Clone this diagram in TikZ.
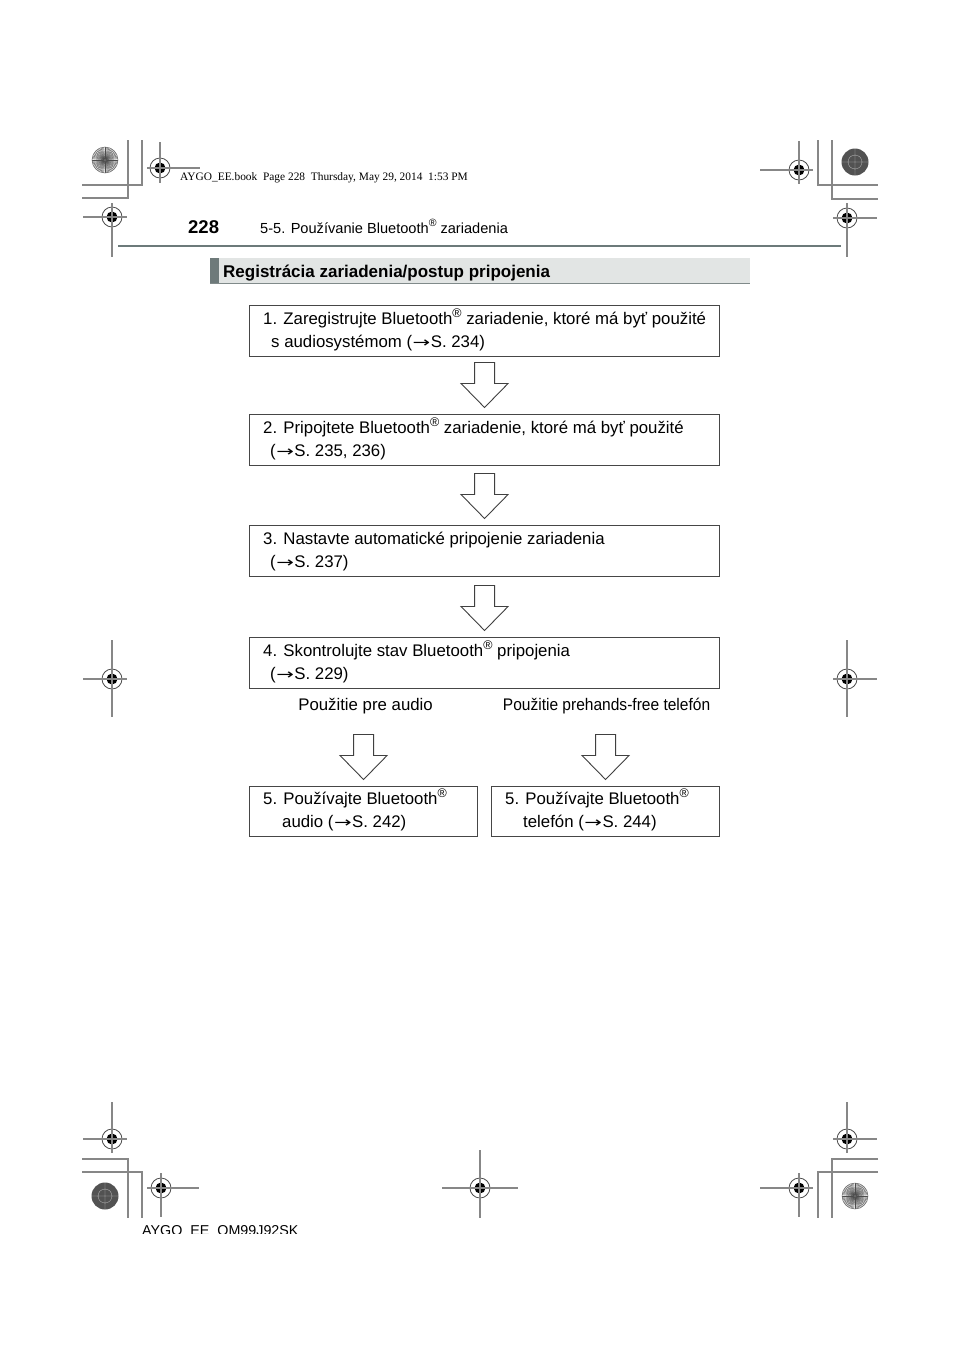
\documentclass[tikz,border=0pt]{standalone}
\usepackage{fontspec}
\setmainfont{Liberation Sans}
\newfontfamily\timesfont{Liberation Serif}
\newfontfamily\arrfont{DejaVu Sans}
\usetikzlibrary{calc}
\definecolor{regline}{RGB}{135,135,135}
\definecolor{rulecol}{RGB}{108,122,122}
\definecolor{barfill}{RGB}{226,229,228}
\definecolor{stripecol}{RGB}{110,122,122}
\definecolor{barline}{RGB}{128,138,138}
\definecolor{boxline}{RGB}{70,70,70}
\definecolor{darkdot}{RGB}{82,82,82}
\newcommand\myreg{\raisebox{0.40em}{\fontsize{12.5}{12.5}\selectfont ®}}
\newcommand\myarr{\kern0.5pt\scalebox{1.45}[1]{\arrfont\fontsize{14.5}{14.5}\selectfont →}\kern0.5pt}
\newcommand\blockarr[1]{\draw[barrow] ($(#1.north)+(-10,-51.5)$) -- ++(20,0) -- ++(0,21) -- ++(13.5,0) -- ++(-23.5,24) -- ++(-23.5,-24) -- ++(13.5,0) -- cycle;}
\begin{document}
\begin{tikzpicture}[x=1pt,y=-1pt,
  regl/.style={draw=regline,line width=1.3},
  boxst/.style={draw=boxline,line width=1.1,fill=white,rectangle,inner sep=0,anchor=north west},
  txt/.style={inner sep=0,anchor=base west,font=\fontsize{16.8}{20}\selectfont},
  lbl/.style={inner sep=0,anchor=base,font=\fontsize{16.8}{20}\selectfont},
  barrow/.style={draw=black!75,line width=0.9,fill=white,line join=miter},
  target/.pic={\draw[draw=black!70,line width=0.8] (0,0) circle (10);
               \fill[black] (0,0) circle (5.5);},
  sunburst/.pic={\fill[black!8] (0,0) circle (13);
                 \foreach \a in {0,6,...,354} \draw[line width=0.35,black!70] (0,0) -- (\a:13);
                 \fill[black!60] (0,0) circle (1.5);
                 \draw[line width=0.5,black!55] (0,0) circle (13);},
  darkcirc/.pic={\fill[darkdot] (0,0) circle (13.5);
                 \draw[white!60!darkdot,line width=0.3] (-13,0) -- (13,0) (0,-13) -- (0,13) (0,0) circle (7);}
]
\useasboundingbox[fill=white] (0,0) rectangle (960,1358);

% ---------- registration marks: top left ----------
\pic at (105,160) {sunburst};
\draw[regl] (128,140) -- (128,198) -- (82,198);
\draw[regl] (142,140) -- (142,185) -- (82,185);
\pic at (160,168) {target};
\draw[regl] (147,168) -- (200,168) (160,142) -- (160,183);
\pic at (112,217) {target};
\draw[regl] (83,217) -- (127,217) (112,203) -- (112,257);

% ---------- top right ----------
\pic at (855,162) {darkcirc};
\draw[regl] (818,140) -- (818,185) -- (878,185);
\draw[regl] (832,140) -- (832,199) -- (878,199);
\pic at (799,170) {target};
\draw[regl] (760,170) -- (813,170) (799,141) -- (799,184);
\pic at (847,218) {target};
\draw[regl] (833,218) -- (877,218) (847,203) -- (847,257);

% ---------- middle ----------
\pic at (112,679) {target};
\draw[regl] (83,679) -- (127,679) (112,640) -- (112,717);
\pic at (847,679) {target};
\draw[regl] (833,679) -- (877,679) (847,640) -- (847,717);

% ---------- bottom left ----------
\pic at (112,1139) {target};
\draw[regl] (83,1139) -- (127,1139) (112,1102) -- (112,1153);
\draw[regl] (82,1159) -- (128,1159) -- (128,1218);
\draw[regl] (82,1172) -- (142,1172) -- (142,1218);
\pic at (105,1196) {darkcirc};
\pic at (161,1188) {target};
\draw[regl] (147,1188) -- (199,1188) (161,1173) -- (161,1217);

% ---------- bottom center ----------
\pic at (480,1188) {target};
\draw[regl] (442,1188) -- (518,1188) (480,1150) -- (480,1218);

% ---------- bottom right ----------
\pic at (847,1139) {target};
\draw[regl] (833,1139) -- (877,1139) (847,1102) -- (847,1153);
\draw[regl] (878,1159) -- (832,1159) -- (832,1218);
\draw[regl] (878,1172) -- (818,1172) -- (818,1218);
\pic at (855,1196) {sunburst};
\pic at (799,1188) {target};
\draw[regl] (760,1188) -- (813,1188) (799,1173) -- (799,1217);

% ---------- stamp and page header ----------
\node[inner sep=0,anchor=base west,font=\timesfont\fontsize{11.4}{13}\selectfont] (stamp) at (180,180)
  {AYGO\_EE.book~ Page 228~ Thursday, May 29, 2014~ 1:53 PM};
\node[inner sep=0,anchor=base west,font=\bfseries\fontsize{18.5}{20}\selectfont] (pnum) at (188,233) {228};
\node[inner sep=0,anchor=base west,font=\fontsize{14.6}{16}\selectfont] (chap) at (260,233)
  {5-5. Používanie Bluetooth\raisebox{0.42em}{\fontsize{10.5}{10.5}\selectfont ®} zariadenia};
\draw[rulecol,line width=2.5] (118,246) -- (841,246);

% ---------- section bar ----------
\node[rectangle,fill=barfill,inner sep=0,anchor=north west,minimum width=540pt,minimum height=26pt] (hdr) at (210,258) {};
\fill[stripecol] (hdr.north west) rectangle ($(hdr.south west)+(9,0)$);
\draw[barline,line width=1.5] ($(hdr.south west)+(0,-0.75)$) -- ($(hdr.south east)+(0,-0.75)$);
\node[inner sep=0,anchor=base west,font=\bfseries\fontsize{17}{20}\selectfont] (hdrtxt) at ($(hdr.north west)+(13,19)$)
  {Registrácia zariadenia/postup pripojenia};

% ---------- boxes ----------
\node[boxst,minimum width=470pt,minimum height=51pt] (b1) at (249,305) {};
\node[boxst,minimum width=470pt,minimum height=51pt] (b2) at (249,414) {};
\node[boxst,minimum width=470pt,minimum height=51pt] (b3) at (249,525) {};
\node[boxst,minimum width=470pt,minimum height=51pt] (b4) at (249,637) {};
\node[boxst,minimum width=228pt,minimum height=50pt] (b5l) at (249,786) {};
\node[boxst,minimum width=228pt,minimum height=50pt] (b5r) at (491,786) {};

\node[txt] (t1a) at ($(b1.north west)+(14,19)$) {1. Zaregistrujte Bluetooth\myreg{} zariadenie, ktoré má byť použité};
\node[txt] (t1b) at ($(b1.north west)+(22,42)$) {s audiosystémom (\myarr S. 234)};
\node[txt] (t2a) at ($(b2.north west)+(14,19)$) {2. Pripojtete Bluetooth\myreg{} zariadenie, ktoré má byť použité};
\node[txt] (t2b) at ($(b2.north west)+(21,42)$) {(\myarr S. 235, 236)};
\node[txt] (t3a) at ($(b3.north west)+(14,19)$) {3. Nastavte automatické pripojenie zariadenia};
\node[txt] (t3b) at ($(b3.north west)+(21,42)$) {(\myarr S. 237)};
\node[txt] (t4a) at ($(b4.north west)+(14,19)$) {4. Skontrolujte stav Bluetooth\myreg{} pripojenia};
\node[txt] (t4b) at ($(b4.north west)+(21,42)$) {(\myarr S. 229)};
\node[txt] (t5la) at ($(b5l.north west)+(14,18)$) {5. Používajte Bluetooth\myreg};
\node[txt] (t5lb) at ($(b5l.north west)+(33,41)$) {audio (\myarr S. 242)};
\node[txt] (t5ra) at ($(b5r.north west)+(14,18)$) {5. Používajte Bluetooth\myreg};
\node[txt] (t5rb) at ($(b5r.north west)+(32,41)$) {telefón (\myarr S. 244)};

% ---------- branch labels ----------
\node[lbl] (la) at ($(b5l.north)+(2,-76)$) {Použitie pre audio};
\node[lbl] (lb) at ($(b5r.north)+(1,-76)$) {\scalebox{0.925}[1]{Použitie prehands-free telefón}};

% ---------- block arrows ----------
\blockarr{b2}
\blockarr{b3}
\blockarr{b4}
\blockarr{b5l}
\blockarr{b5r}

% ---------- clipped footer ----------
\begin{scope}
\clip (100,1200) rectangle (400,1233);
\node[inner sep=0,anchor=base west,font=\fontsize{14.3}{16}\selectfont] (foot) at (142,1235.5) {AYGO\_EE\_OM99J92SK};
\end{scope}
\end{tikzpicture}
\end{document}
